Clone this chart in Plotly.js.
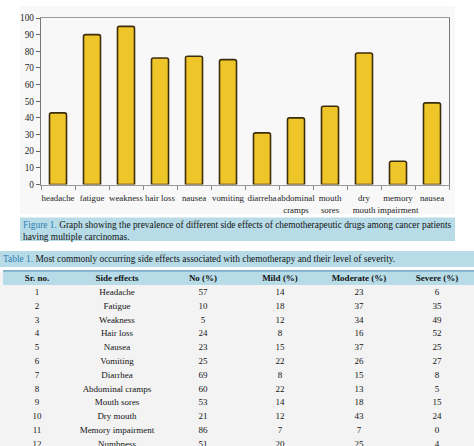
<!DOCTYPE html>
<html><head><meta charset="utf-8">
<script src="https://cdn.plot.ly/plotly-3.0.1.min.js"></script>
<style>html,body{margin:0;padding:0;overflow:hidden;background:#fff}</style>
</head><body><div id="chart" style="width:474px;height:452px"></div>
<script>
// ---- chart data ----
const categories = ["headache","fatigue","weakness","hair loss","nausea","vomiting","diarreha","abdominal<br>cramps","mouth<br>sores","dry<br>mouth","memory<br>impairment","nausea"];
const prevalence = [43,90,95,76,77,75,31,40,47,79,14,49];
const yTicks = [0,10,20,30,40,50,60,70,80,90,100];

// ---- table data ----
const tableHeader = ["Sr. no.","Side effects","No (%)","Mild (%)","Moderate (%)","Severe (%)"];
const srNo = [1,2,3,4,5,6,7,8,9,10,11,12];
const sideEffects = ["Headache","Fatigue","Weakness","Hair loss","Nausea","Vomiting","Diarrhea","Abdominal cramps","Mouth sores","Dry mouth","Memory impairment","Numbness"];
const noPct = [57,10,5,24,23,25,69,60,53,21,86,51];
const mildPct = [14,18,12,8,15,22,8,22,14,12,7,20];
const moderatePct = [23,37,34,16,37,26,15,13,18,43,7,25];
const severePct = [6,35,49,52,25,27,8,5,15,24,0,4];

const figCaption = "<span style='color:#2f80b3'>Figure 1.</span> Graph showing the prevalence of different side effects of chemotherapeutic drugs among cancer patients<br>having multiple carcinomas.";
const tabCaption = "<span style='color:#2f80b3'>Table 1.</span> Most commonly occurring side effects associated with chemotherapy and their level of severity.";

const H = 452, W = 474;
const py = v => 1 - v / H;
const px = v => v / W;
const serif = "Liberation Serif, serif";
const idx = categories.map((_, i) => i);

const bar = {
  type: "bar",
  x: idx,
  y: prevalence,
  marker: {color: "#efc62a", line: {color: "#3d2d0c", width: 1.6}, cornerradius: 2},
  hoverinfo: "skip",
  xaxis: "x", yaxis: "y"
};

// table drawn as text marks on its own axes: x = column centre, y = row index
const colCenters = [37, 117, 203, 280, 359, 437];
const columns = [srNo, sideEffects, noPct, mildPct, moderatePct, severePct];
const rowIdx = srNo.map((_, i) => i + 1);
const tableFont = {family: serif, size: 9, color: "#141414"};
const traces = [bar];
traces.push({
  type: "scatter", mode: "text", xaxis: "x2", yaxis: "y2",
  x: colCenters, y: colCenters.map(() => 0),
  text: tableHeader.map(h => "<b>" + h + "</b>"),
  textfont: tableFont, hoverinfo: "skip"
});
columns.forEach((col, c) => {
  traces.push({
    type: "scatter", mode: "text", xaxis: "x2", yaxis: "y2",
    x: col.map(() => colCenters[c]), y: rowIdx,
    text: col.map(String),
    textfont: tableFont, hoverinfo: "skip"
  });
});

const rowPx = 13.8;
const tableTop = 272;
const layout = {
  width: W, height: H,
  margin: {l: 0, r: 0, t: 0, b: 0},
  paper_bgcolor: "#ffffff",
  plot_bgcolor: "#f3f3f3",
  showlegend: false,
  bargap: 0.5,
  font: {family: serif, color: "#222"},
  xaxis: {
    domain: [px(41), px(449)],
    range: [-0.5, 11.5],
    tickmode: "array", tickvals: idx, ticktext: categories, tickangle: 0,
    ticks: "", ticklabelstandoff: 5, showgrid: false, zeroline: false,
    showline: true, linecolor: "#9a9a9a", linewidth: 1.2, mirror: true,
    tickfont: {family: serif, size: 8.9, color: "#1e1e1e"},
    minor: {tick0: 0.5, dtick: 1, ticks: "outside", ticklen: 4, tickcolor: "#888", showgrid: false},
    fixedrange: true
  },
  yaxis: {
    domain: [py(184.5), py(18)],
    range: [0, 100],
    tickmode: "array", tickvals: yTicks,
    ticks: "outside", ticklen: 4, tickcolor: "#666",
    showgrid: false, zeroline: false,
    showline: true, linecolor: "#777", linewidth: 1.2, mirror: true,
    tickfont: {family: serif, size: 9.3, color: "#1e1e1e"},
    fixedrange: true
  },
  xaxis2: {domain: [0, 1], range: [0, W], visible: false, fixedrange: true},
  yaxis2: {domain: [0, py(tableTop)], range: [(H - tableTop) / rowPx - 0.5, -0.5], visible: false, fixedrange: true},
  shapes: [
    {type: "rect", xref: "paper", yref: "paper", x0: px(20), x1: px(455), y0: py(214), y1: py(6), fillcolor: "#f8f8f8", line: {width: 0}, layer: "below"},
    {type: "rect", xref: "paper", yref: "paper", x0: px(20), x1: px(455), y0: py(241), y1: py(217.5), fillcolor: "#b7dce8", line: {width: 0}, layer: "below"},
    {type: "rect", xref: "paper", yref: "paper", x0: 0, x1: 1, y0: py(267), y1: py(251), fillcolor: "#b7dce8", line: {width: 0}, layer: "below"},
    {type: "rect", xref: "paper", yref: "paper", x0: px(3), x1: 1, y0: py(285), y1: py(270.5), fillcolor: "#b7dce8", line: {width: 0}, layer: "below"},
    {type: "line", xref: "paper", yref: "paper", x0: px(3), x1: 1, y0: py(270.8), y1: py(270.8), line: {color: "#5e9ab5", width: 1.2}}
  ],
  annotations: [
    {xref: "paper", yref: "paper", x: px(21), y: py(218), xanchor: "left", yanchor: "top", align: "left", showarrow: false,
     text: figCaption, font: {family: serif, size: 9.4, color: "#141414"}},
    {xref: "paper", yref: "paper", x: px(1), y: py(251.5), xanchor: "left", yanchor: "top", align: "left", showarrow: false,
     text: tabCaption, font: {family: serif, size: 9.4, color: "#141414"}}
  ]
};

Plotly.newPlot("chart", traces, layout, {displayModeBar: false, staticPlot: true});
</script></body></html>
